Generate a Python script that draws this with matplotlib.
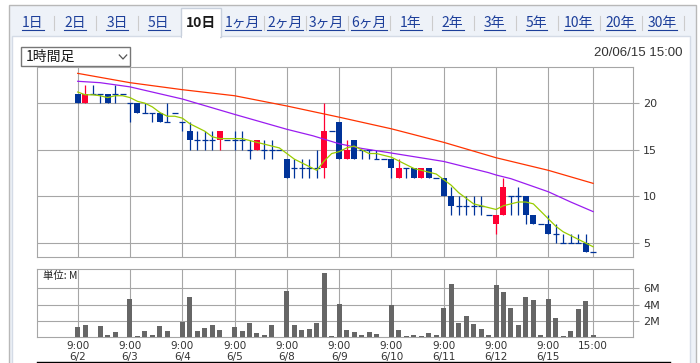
"""10日 / 1時間足 chart: candles, moving averages and volume"""
import matplotlib
matplotlib.use('Agg')
import matplotlib.pyplot as plt
from matplotlib.lines import Line2D
from matplotlib.patches import Rectangle

W, H = 700, 363
JP = ['Noto Sans CJK JP', 'DejaVu Sans']
plt.rcParams['font.family'] = JP

GRID = '#a6a6a6'
UP = '#ff0033'
DOWN = '#003399'
LINK = '#1d3f9a'

TABS = ['1日', '2日', '3日', '5日', '10日', '1ヶ月', '2ヶ月', '3ヶ月', '6ヶ月',
        '1年', '2年', '3年', '5年', '10年', '20年', '30年']
SELECTED = '10日'
DAYS = ['6/2', '6/3', '6/4', '6/5', '6/8', '6/9', '6/10', '6/11', '6/12', '6/15']

# 1時間足: 7 bars per day
OPENS = [21, 20, 21, 21, 21, 21, 21,
         20, 20, 19, 19, 19, 18, 19,
         18, 17, 16, 16, 16, 16, 16,
         16, 16, 15, 15, 15, 15, 15,
         14, 13, 13, 13, 13, 13, 17,
         18, 14, 16, 15, 15, 14, 14,
         14, 12, 13, 13, 12, 13, 12,
         12, 10, 9, 9, 9, 9, 8,
         7, 8, 10, 10, 10, 8, 7,
         7, 6, 5, 5, 5, 5, 4]
HIGHS = [21, 22, 22, 21, 21, 22, 21,
         20, 20, 20, 19, 19, 20, 19,
         18, 18, 17, 17, 17, 17, 16,
         17, 17, 16, 16, 16, 16, 15,
         14, 14, 14, 14, 15, 20, 17,
         18, 16, 16, 15, 15, 15, 14,
         14, 14, 13, 13, 13, 13, 12,
         12, 11, 10, 10, 10, 10, 8,
         8, 12, 10, 11, 10, 8, 7,
         8, 7, 6, 6, 6, 6, 4]
LOWS = [20, 20, 21, 20, 20, 20, 21,
        18, 19, 19, 18, 18, 18, 19,
        17, 15, 15, 15, 15, 15, 16,
        15, 15, 14, 15, 14, 14, 15,
        12, 12, 12, 12, 12, 12, 17,
        14, 14, 14, 14, 14, 14, 14,
        12, 12, 12, 12, 12, 12, 12,
        10, 8, 8, 8, 8, 8, 8,
        6, 8, 8, 8, 7, 7, 7,
        6, 5, 5, 5, 5, 4, 4]
CLOSES = [20, 21, 21, 21, 20, 21, 21,
          20, 19, 19, 19, 18, 18, 19,
          18, 16, 16, 16, 16, 17, 16,
          16, 16, 15, 16, 15, 15, 15,
          12, 13, 13, 13, 13, 17, 17,
          14, 15, 14, 15, 15, 14, 14,
          13, 13, 13, 12, 13, 12, 12,
          10, 9, 9, 9, 9, 9, 8,
          8, 11, 10, 10, 8, 7, 7,
          6, 6, 5, 5, 5, 4, 4]
# 出来高 (M)
VOLUMES = [1.27, 1.51, 0.08, 1.39, 0.29, 0.65, 0.04,
           4.70, 0.16, 0.78, 0.29, 1.39, 0.78, 0.04,
           1.92, 4.95, 0.78, 1.15, 1.51, 0.90, 0.04,
           1.27, 0.78, 1.76, 0.53, 0.29, 1.51, 0.04,
           5.69, 1.51, 0.90, 1.02, 1.76, 7.90, 0.16,
           4.10, 0.90, 0.65, 0.29, 0.65, 0.41, 0.04,
           4.00, 0.90, 0.16, 0.29, 0.16, 0.53, 0.29,
           3.60, 6.54, 1.76, 2.62, 1.64, 1.02, 0.29,
           6.42, 5.56, 3.60, 1.51, 4.95, 4.58, 0.29,
           4.70, 2.37, 0.16, 0.80, 3.48, 4.46, 0.29]
# moving averages
MA_SHORT = [21.2, 20.9, 20.9, 20.8, 20.6, 20.8, 20.8,
            20.6, 20.2, 20.0, 19.6, 19.0, 18.6, 18.6,
            18.4, 17.8, 17.4, 17.0, 16.4, 16.2, 16.2,
            16.2, 16.2, 16.0, 15.8, 15.6, 15.4, 15.2,
            14.6, 14.0, 13.6, 13.2, 12.8, 13.8, 14.6,
            14.8, 15.2, 15.4, 15.0, 14.6, 14.6, 14.4,
            14.2, 13.8, 13.4, 13.0, 12.8, 12.6, 12.4,
            11.8, 11.2, 10.4, 9.8, 9.2, 9.0, 8.8,
            8.6, 9.0, 9.2, 9.4, 9.4, 9.2, 8.4,
            7.6, 6.8, 6.2, 5.8, 5.4, 5.0, 4.6]
MA_MID_IDX = [0, 3, 7, 14, 21, 28, 31.5, 35, 38, 42, 49, 55, 56, 58, 63, 66, 69]
MA_MID = [22.35, 22.2, 21.75, 20.45, 18.8, 17.2, 16.5, 15.65, 15.15, 14.65,
          13.75, 12.55, 12.3, 11.9, 10.5, 9.4, 8.37]
MA_LONG_IDX = [0, 7, 14, 21, 28, 35, 42, 49, 56, 63, 69]
MA_LONG = [23.2, 22.2, 21.45, 20.8, 19.7, 18.5, 17.25, 15.8, 14.15, 12.8, 11.4]


def fx(x):
    return x / W


def fy(y):
    return 1 - y / H


def frame(fig):
    """Tab bar, panel and selector around the chart"""
    fig.patches.append(Rectangle((fx(9), fy(370)), fx(687), 365 / H, transform=fig.transFigure,
                                 facecolor='#eef2f8', edgecolor='#b8b8b8', lw=1, zorder=-3))
    fig.patches.append(Rectangle((fx(12), fy(370)), fx(678), 334 / H, transform=fig.transFigure,
                                 facecolor='white', edgecolor='#d4dbe6', lw=1, zorder=-2))
    sel = TABS.index(SELECTED)
    centers = [33 + 41.97 * k for k in range(len(TABS))]
    sx = centers[sel]
    fig.patches.append(Rectangle((fx(sx - 20), fy(37)), fx(40), 29 / H, transform=fig.transFigure,
                                 facecolor='white', edgecolor='#c8d0dc', lw=1, zorder=-1))
    fig.patches.append(Rectangle((fx(sx - 19.3), fy(38.5)), fx(38.6), 3 / H, transform=fig.transFigure,
                                 facecolor='white', edgecolor='none', zorder=-1))
    texts = []
    for k, (label, cx) in enumerate(zip(TABS, centers)):
        if k == sel:
            fig.text(fx(cx), fy(23), label, ha='center', va='center', fontsize=10,
                     fontweight='bold', color='#1a1a1a', family=JP)
        else:
            texts.append(fig.text(fx(cx), fy(23), label, ha='center', va='center', fontsize=10,
                                  color=LINK, family=JP))
        if k < len(TABS) - 1 and sel not in (k, k + 1):
            mx = (cx + centers[k + 1]) / 2
            fig.lines.append(Line2D([fx(mx), fx(mx)], [fy(16), fy(30)], transform=fig.transFigure,
                                    color='#cccccc', lw=0.8))
    last = centers[-1] + (centers[-1] - centers[-2]) / 2
    fig.lines.append(Line2D([fx(last), fx(last)], [fy(16), fy(30)], transform=fig.transFigure,
                            color='#cccccc', lw=0.8))

    # selector and timestamp
    fig.patches.append(Rectangle((fx(21), fy(66)), fx(109), 19.3 / H, transform=fig.transFigure,
                                 facecolor='white', edgecolor='#767676', lw=1))
    fig.text(fx(26), fy(57), '1時間足', ha='left', va='center', fontsize=10,
             color='#1a1a1a', family=JP)
    fig.lines.append(Line2D([fx(119.3), fx(123), fx(126.7)], [fy(55), fy(59), fy(55)],
                            transform=fig.transFigure, color='#555555', lw=0.9))
    fig.text(fx(683), fy(53.5), '20/06/15 15:00', ha='right', va='center', fontsize=9.5,
             color='#333333', family=['Liberation Sans', 'DejaVu Sans'])
    fig.lines.append(Line2D([fx(37), fx(670)], [fy(362.4), fy(362.4)], transform=fig.transFigure,
                            color='black', lw=1))
    return texts


def style_axes(ax, yticks, ylabels):
    ax.set_zorder(5)
    ax.set_xlim(-5.41, 74.3)
    ax.set_xticks([7 * d for d in range(len(DAYS))] + [len(CLOSES) - 1])
    ax.set_yticks(yticks)
    ax.set_yticklabels(ylabels)
    ax.grid(True, color=GRID, lw=0.8)
    ax.set_axisbelow(True)
    for s in ax.spines.values():
        s.set_color(GRID)
        s.set_linewidth(0.8)
    ax.yaxis.tick_right()
    ax.tick_params(axis='y', length=4.5, width=0.8, color=GRID, pad=3,
                   labelsize=8, labelcolor='#333333')
    ax.tick_params(axis='x', length=0)
    for t in ax.get_yticklabels():
        t.set_family(['DejaVu Sans'])


def draw_candles(ax):
    for i, (o, h, l, c) in enumerate(zip(OPENS, HIGHS, LOWS, CLOSES)):
        color = UP if c > o else DOWN
        if h > l:
            ax.vlines(i, l, h, color=color, lw=0.9, zorder=3)
        if c == o:
            ax.hlines(o, i - 0.4, i + 0.4, color=color, lw=0.9, zorder=3)
        else:
            ax.bar(i, abs(c - o), bottom=min(o, c), width=0.8, color=color, lw=0, zorder=3)
    ax.plot(MA_LONG_IDX, MA_LONG, color='#ff3300', lw=0.9, zorder=4)
    ax.plot(MA_MID_IDX, MA_MID, color='#9a1cf0', lw=0.9, zorder=4)
    ax.plot(range(len(MA_SHORT)), MA_SHORT, color='#99cc00', lw=0.9, zorder=4)


def main():
    fig = plt.figure(figsize=(W / 100, H / 100), dpi=100)
    fig.patch.set_facecolor('white')
    link_texts = frame(fig)

    left, right = 37.3, 632.7
    ax = fig.add_axes([fx(left), fy(257), (right - left) / W, (257 - 67.3) / H])
    ax.set_ylim(3.5, 23.85)
    style_axes(ax, [5, 10, 15, 20], ['5', '10', '15', '20'])
    ax.tick_params(axis='x', labelbottom=False)
    draw_candles(ax)

    axv = fig.add_axes([fx(left), fy(337.3), (right - left) / W, (337.3 - 269) / H])
    axv.set_ylim(0, 8.38)
    style_axes(axv, [2, 4, 6], ['2M', '4M', '6M'])
    axv.bar(range(len(VOLUMES)), VOLUMES, width=0.67, color='#666666', lw=0, zorder=3)
    axv.set_xticklabels([f'9:00\n{d}' for d in DAYS] + ['15:00'], va='top')
    axv.tick_params(axis='x', pad=2.5, labelsize=7.5, labelcolor='#333333')
    for t in axv.get_xticklabels():
        t.set_family(['DejaVu Sans'])
        t.set_linespacing(1.1)
    axv.text(0.009, 0.9, '単位: M', transform=axv.transAxes, ha='left', va='center',
             fontsize=7.5, color='#222222', family=JP)

    # underline the tab links
    fig.canvas.draw()
    renderer = fig.canvas.get_renderer()
    for t in link_texts:
        bb = t.get_window_extent(renderer)
        fig.lines.append(Line2D([bb.x0 / W, bb.x1 / W], [fy(29.5), fy(29.5)],
                                transform=fig.transFigure, color=LINK, lw=0.8))

    fig.savefig('out.png', dpi=100, facecolor='white')


if __name__ == '__main__':
    main()
